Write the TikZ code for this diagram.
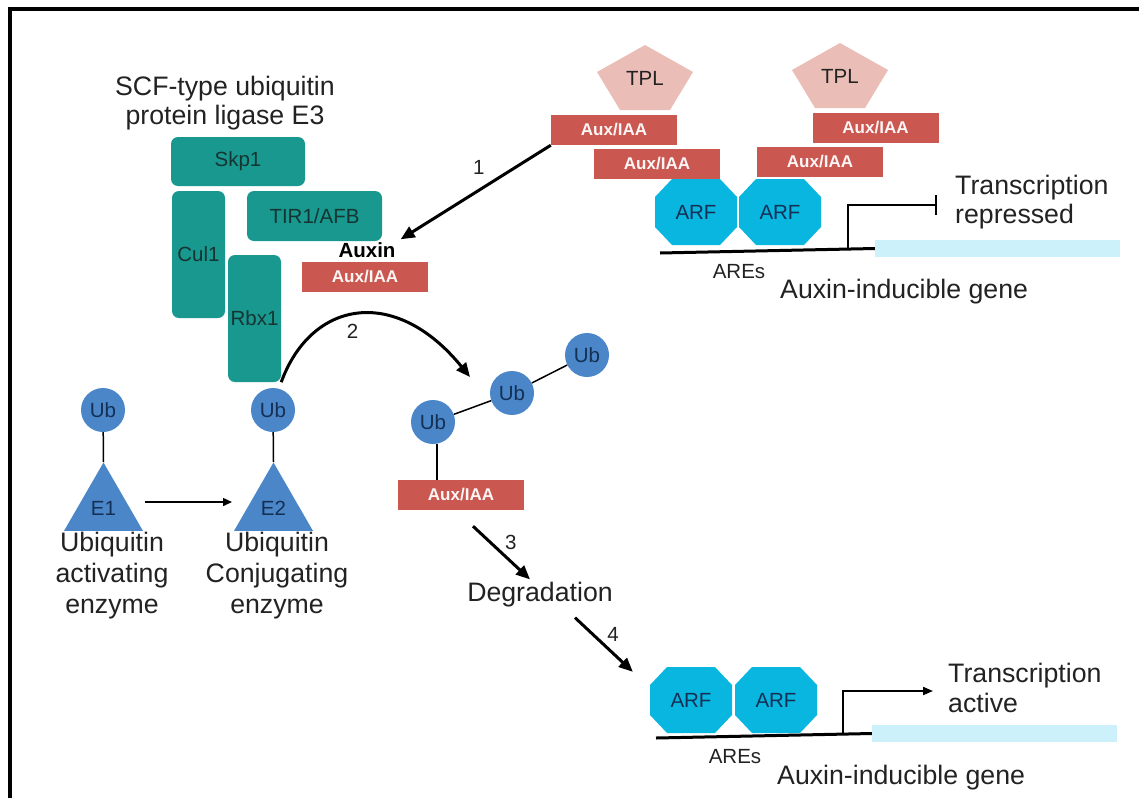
\documentclass[tikz,border=0pt]{standalone}
\usepackage{fontspec}
\setmainfont{Liberation Sans}
\usetikzlibrary{arrows.meta,shapes.geometric}
\definecolor{tealbox}{RGB}{24,152,142}
\definecolor{tealtext}{RGB}{22,52,50}
\definecolor{auxred}{RGB}{203,88,80}
\definecolor{tplpink}{RGB}{234,190,182}
\definecolor{arfcyan}{RGB}{8,182,224}
\definecolor{navytext}{RGB}{20,48,85}
\definecolor{ubblue}{RGB}{74,134,200}
\definecolor{genebar}{RGB}{204,241,250}
\definecolor{inkgray}{RGB}{34,34,34}
\begin{document}
\begin{tikzpicture}[x=1pt,y=-1pt,
    every node/.style = {font=\fontsize{20.5}{24}\selectfont, inner sep=0pt, text=inkgray},
    sub/.style = {shape=rectangle, rounded corners=7pt, fill=tealbox, text=tealtext},
    aux/.style = {shape=rectangle, fill=auxred, text=white!94!auxred,
      minimum width=126pt, minimum height=30pt, font=\fontsize{17}{20}\selectfont\bfseries},
    arf/.style = {shape=rectangle, text=navytext, minimum width=82pt, minimum height=66pt,
      path picture={\fill[arfcyan] (path picture bounding box.center) +(-24,-33) -- +(24,-33)
        -- +(41,-15) -- +(41,15) -- +(24,33) -- +(-24,33) -- +(-41,15) -- +(-41,-15) -- cycle;}},
    tpl/.style = {shape=rectangle, minimum width=96pt, minimum height=66pt,
      path picture={\fill[tplpink] (path picture bounding box.center) +(0,-33) -- +(48,-6)
        -- +(25,32) -- +(-25,32) -- +(-48,-6) -- cycle;}},
    ub/.style = {circle, fill=ubblue, text=navytext, minimum size=44pt},
    enz/.style = {regular polygon, regular polygon sides=3, fill=ubblue, text=navytext, minimum size=91pt},
    big/.style = {font=\fontsize{26.7}{29.5}\selectfont},
    bigarrow/.style = {line width=3pt, -{Triangle[length=14pt,width=12pt]}},
    thinline/.style = {line width=1.5pt}]
    \useasboundingbox (0,0) rectangle (1139,798);
    \draw[line width=4pt] (10,798) -- (10,9) -- (1139,9);

    \node[big, align=center] (scf) at (225,103) {SCF-type ubiquitin\\protein ligase E3};
    \node[sub, minimum width=134pt, minimum height=49pt] (skp1) at (238,161.5) {Skp1};
    \node[sub, minimum width=53pt, minimum height=127pt] (cul1) at (198.5,254.5) {Cul1};
    \node[sub, minimum width=135pt, minimum height=50pt] (tir1) at (314.5,216) {TIR1/AFB};
    \node[sub, minimum width=53pt, minimum height=127pt] (rbx1) at (254.5,318.5) {Rbx1};
    \node[font=\fontsize{20.5}{24}\selectfont\bfseries, text=black] (auxin) at (367,250) {Auxin};
    \node[aux] (auxm) at (365,277) {Aux/IAA};

    \node[tpl] (tpl1) at (645,78) {TPL};
    \node[tpl] (tpl2) at (840,76) {TPL};
    \node[aux] (a1) at (614,130) {Aux/IAA};
    \node[aux] (a2) at (657,164) {Aux/IAA};
    \node[aux] (a3) at (820,161.5) {Aux/IAA};
    \node[aux] (a4) at (875.5,128) {Aux/IAA};
    \node[arf] (arf1) at (696,212) {ARF};
    \node[arf] (arf2) at (780,212) {ARF};
    \node[fill=genebar, minimum width=245pt, minimum height=17pt] (gene1) at (997.5,248.5) {};
    \draw[line width=3pt] (660,253) -- (gene1.west);
    \draw[line width=2pt, -{Bar[width=20pt]}] (848,249) |- (937,205);
    \node (are1) at (739,272) {AREs};
    \node[big, anchor=west] (aig1) at (780,292) {Auxin-inducible gene};
    \node[big, anchor=west, align=left] (trep) at (955,202) {Transcription\\repressed};

    \node[ub] (ub1) at (103,410) {Ub};
    \node[ub] (ub2) at (273,410) {Ub};
    \node[enz] (e1) at (103.5,508) {E1};
    \node[enz] (e2) at (273.5,508) {E2};
    \draw[thinline] (ub1) -- (e1.corner 1);
    \draw[thinline] (ub2) -- (e2.corner 1);
    \draw[thinline, -{Triangle[length=9pt,width=8pt]}] ([xshift=15pt,yshift=6pt]e1.east) -- ([xshift=-15pt,yshift=6pt]e2.west);
    \node[big, align=center, font=\fontsize{26.7}{31}\selectfont] (e1lab) at (112,576) {Ubiquitin\\activating\\enzyme};
    \node[big, align=center, font=\fontsize{26.7}{31}\selectfont] (e2lab) at (277,576) {Ubiquitin\\Conjugating\\enzyme};

    \node[ub] (uba) at (433,422) {Ub};
    \node[ub] (ubb) at (512,393) {Ub};
    \node[ub] (ubc) at (587,355) {Ub};
    \node[aux] (auxb) at (461,495) {Aux/IAA};
    \draw[thinline] (uba) -- (ubb) (ubb) -- (ubc);
    \draw[thinline] ([xshift=4pt]uba.south) -- ([xshift=4pt]uba.south |- auxb.north);
    \coordinate (ubin) at (470,377);
    \node[big] (degr) at (540,595) {Degradation};

    \node[arf] (arf3) at (691,700) {ARF};
    \node[arf] (arf4) at (776,700) {ARF};
    \node[fill=genebar, minimum width=245pt, minimum height=17pt] (gene2) at (994.5,733.5) {};
    \draw[line width=3pt] (656,738) -- (gene2.west);
    \draw[line width=2pt, -{Triangle[length=10pt,width=8pt]}] (843,734) |- (933,691);
    \node (are2) at (735,757) {AREs};
    \node[big, anchor=west] (aig2) at (777,778) {Auxin-inducible gene};
    \node[big, anchor=west, align=left] (tact) at (948,688) {Transcription\\active};

    \draw[bigarrow] (a1.south west) -- ([xshift=5pt,yshift=3pt]auxin.north east) node[pos=0.48, above=14pt] {1};
    \draw[bigarrow] (rbx1.south east) .. controls +(30,-82) and +(-75,-92) .. (ubin) node[pos=0.47, below=8pt] {2};
    \draw[bigarrow] ([xshift=12pt,yshift=-16pt]auxb.south) -- ([xshift=-10pt,yshift=3pt]degr.north) node[midway, above right=2pt] {3};
    \draw[bigarrow] ([xshift=35pt,yshift=-10pt]degr.south) -- ([xshift=-17pt,yshift=-5pt]arf3.north west) node[midway, above right=2pt] {4};
\end{tikzpicture}
\end{document}
